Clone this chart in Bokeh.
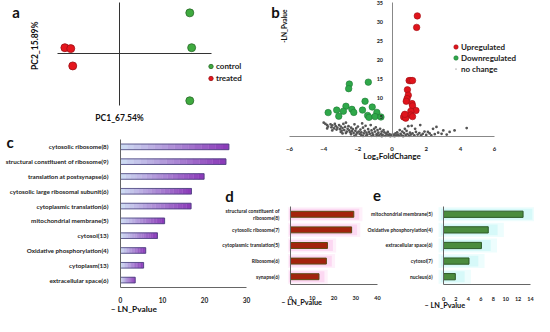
from bokeh.plotting import figure
from bokeh.models import Range1d, Label, FixedTicker
from bokeh.layouts import row, column
from bokeh.embed import file_html
from bokeh.resources import INLINE

FONT = "Lato"

# ---------------- data ----------------
# panel a (PCA)
pc1_control = [4.56, 4.68, 4.56]
pc2_control = [3.94, 0.56, -4.59]
pc1_treated = [-3.55, -3.17, -3.04]
pc2_treated = [0.56, 0.47, -1.21]

# panel b (volcano)
up_x = [1.48, 1.44, 1.0, 1.1, 1.2, 0.9, 0.95, 0.88, 0.83, 1.17, 1.2, 1.4, 1.1, 1.1, 0.72, 0.68, 0.8, 1.2, 0.75]
up_y = [31.5, 28.5, 14.6, 14.6, 14.6, 12.2, 10.8, 9.9, 9.2, 8.6, 8.0, 6.8, 6.6, 5.6, 5.5, 5.1, 4.8, 5.2, 5.8]
down_x = [-1.39, -2.5, -2.54, -1.58, -2.7, -1.16, -3.24, -2.35, -1.73, -3.74, -2.85, -2.24, -0.89, -3.12,
          -1.43, -1.35, -1.0, -0.65]
down_y = [14.2, 13.7, 12.5, 9.2, 7.9, 7.7, 6.9, 7.1, 6.9, 6.25, 6.6, 6.3, 6.3, 5.3, 5.5, 5.0, 5.2, 5.1]
nc_x = [-4.0, -3.9, -3.8, -3.75, -3.6, -3.55, -3.5, -3.4, -3.35, -3.3, -3.25, -3.2, -3.1, -3.05, -3.0,
        -2.95, -2.9, -2.85, -2.8, -2.75, -2.7, -2.65, -2.6, -2.55, -2.5, -2.45, -2.4, -2.35, -2.3, -2.25,
        -2.2, -2.15, -2.1, -2.05, -2.0, -1.95, -1.9, -1.85, -1.8, -1.75, -1.7, -1.65, -1.6, -1.55, -1.5,
        -1.45, -1.4, -1.35, -1.3, -1.25, -1.2, -1.15, -1.1, -1.05, -1.0, -0.95, -0.9, -0.85, -0.8, -0.75,
        -0.7, -0.65, -0.6, -0.55, -0.5, -0.45, -0.4, -0.35, -0.3, -0.25, -0.2, -0.15, -0.1, -0.05,
        -3.0, -2.7, -2.4, -2.1, -1.8, -1.5, -1.2, -0.9, -2.9, -3.5, -3.8, -2.2, -1.7, -0.6,
        0.05, 0.1, 0.15, 0.2, 0.25, 0.3, 0.35, 0.4, 0.45, 0.5, 0.55, 0.6, 0.65, 0.7, 0.75, 0.8, 0.85,
        0.9, 0.95, 1.0, 1.05, 1.1, 1.15, 1.2, 1.3, 1.35, 1.4, 1.5, 1.6, 1.65, 1.7, 1.8, 1.9, 2.0, 2.1,
        2.2, 2.3, 2.4, 2.5, 2.6, 2.7, 2.9, 3.0, 3.2, 3.37, 3.66, 4.37]
nc_y = [3.6, 3.3, 3.0, 2.6, 3.2, 2.4, 2.9, 2.1, 3.3, 2.7, 1.8, 2.3, 3.0, 1.9, 2.6,
        1.5, 2.2, 3.3, 1.7, 2.5, 3.6, 1.3, 2.0, 2.7, 1.6, 1.1, 2.3, 1.4, 1.9, 0.9,
        3.2, 1.5, 2.1, 1.0, 2.6, 1.3, 0.7, 1.8, 1.1, 3.4, 2.3, 0.8, 1.5, 2.8, 1.0,
        0.5, 1.9, 1.2, 0.7, 3.0, 1.6, 0.9, 0.4, 2.0, 1.3, 2.4, 0.6, 1.7, 1.0, 0.3,
        2.0, 0.7, 1.3, 0.4, 1.7, 1.1, 0.2, 0.8, 0.5, 1.2, 0.3, 0.6, 0.1, 0.4,
        1.2, 0.9, 0.6, 0.5, 0.4, 0.3, 0.2, 0.2, 0.8, 1.6, 2.1, 0.2, 0.15, 0.1,
        0.2, 0.5, 0.1, 0.8, 0.3, 1.1, 0.5, 0.2, 1.7, 0.7, 0.3, 1.3, 0.1, 0.9, 2.0, 0.4, 1.5,
        0.6, 2.7, 0.2, 1.0, 0.5, 2.8, 0.8, 0.3, 2.0, 1.2, 0.5, 0.9, 3.0, 0.3, 0.7, 1.3, 0.4, 1.2,
        0.8, 0.3, 2.0, 0.6, 2.5, 1.0, 0.7, 1.6, 0.5, 1.2, 1.6, 2.2]
b_xticks = [-6, -4, -2, 0, 2, 4, 6]
b_yticks = [5, 10, 15, 20, 25, 30, 35]

# panel c
c_terms = ["cytosolic ribosome(8)", "structural constituent of ribosome(9)", "translation at postsynapse(6)",
           "cytosolic large ribosomal subunit(6)", "cytoplasmic translation(6)", "mitochondrial membrane(5)",
           "cytosol(13)", "Oxidative phosphorylation(4)", "cytoplasm(13)", "extracellular space(6)"]
c_values = [25.8, 25.1, 19.9, 16.9, 16.8, 10.5, 8.8, 6.0, 5.5, 3.5]
c_xticks = [0, 10, 20, 30]

# panel d
d_terms = ["structural constituent of\nribosome(8)", "cytosolic ribosome(7)", "cytoplasmic translation(5)",
           "Ribosome(6)", "synapse(6)"]
d_values = [29.1, 28.1, 17.0, 16.5, 13.1]
d_xticks = [0, 10, 20, 30, 40]

# panel e
e_terms = ["mitochondrial membrane(5)", "Oxidative phosphorylation(4)", "extracellular space(6)",
           "cytosol(7)", "nucleus(6)"]
e_values = [12.8, 7.2, 6.1, 4.1, 1.9]
e_xticks = [0, 2, 4, 6, 8, 10, 12, 14]

AXIS_TITLE = "– LN_Pvalue"


def lab(p, x, y, text, size, angle=0.0, align="center", color="#111111"):
    p.add_layout(Label(x=x, y=y, text=text, text_font=FONT, text_font_style="bold",
                       text_font_size=f"{size}px", text_align=align, text_baseline="middle",
                       angle=angle, text_color=color))


def style_axes(p, tick_size):
    for ax in p.axis:
        ax.major_label_text_font = FONT
        ax.major_label_text_font_style = "bold"
        ax.major_label_text_font_size = f"{tick_size}px"
        ax.major_label_text_color = "#222222"
        ax.major_tick_line_color = None
        ax.minor_tick_line_color = None
        ax.axis_line_color = "#666666"
        ax.axis_line_width = 1
    p.grid.visible = False


def style_legend(lg, row_h, glyph_w):
    lg.label_text_font = FONT
    lg.label_text_font_style = "bold"
    lg.label_text_font_size = "8px"
    lg.label_text_color = "#222222"
    lg.glyph_width = glyph_w
    lg.glyph_height = row_h
    lg.label_height = row_h
    lg.label_standoff = 0
    lg.spacing = 0
    lg.padding = 0
    lg.margin = 0
    lg.border_line_color = None
    lg.background_fill_alpha = 0


def fig(w, h, xr, yr, transparent=False, **kw):
    extra = dict(border_fill_color=None, background_fill_color=None) if transparent else {}
    return figure(frame_width=w, frame_height=h, x_range=Range1d(*xr), y_range=Range1d(*yr),
                  min_border=0, outline_line_color=None, output_backend="svg", toolbar_location=None,
                  **extra, **kw)


def hbar_axes(p, n, terms, xticks, xbound, tick_size, cat_size, cat_standoff, x_standoff):
    pos = list(range(n))[::-1]
    p.xaxis.fixed_location = -0.5
    p.xaxis.bounds = xbound
    p.xaxis.ticker = FixedTicker(ticks=xticks)
    p.yaxis.fixed_location = 0
    p.yaxis.bounds = (-0.5, n - 0.5)
    p.yaxis.ticker = FixedTicker(ticks=pos)
    p.yaxis.major_label_overrides = {k: t for k, t in zip(pos, terms)}
    style_axes(p, tick_size)
    p.yaxis.major_label_text_font_size = f"{cat_size}px"
    p.yaxis.major_label_standoff = cat_standoff
    p.xaxis.major_label_standoff = x_standoff
    return pos


# ---------------- panel a ----------------
pa = fig(266, 132, (-7.73, 9.54), (-7.67, 5.14))
pa.xaxis.fixed_location = 0
pa.yaxis.fixed_location = 0
pa.xaxis.bounds = (-4.03, 5.97)
pa.yaxis.bounds = (-5.05, 4.95)
for ax in pa.axis:
    ax.ticker = FixedTicker(ticks=[])
    ax.major_tick_line_color = None
    ax.minor_tick_line_color = None
    ax.axis_line_color = "#333333"
pa.grid.visible = False
pa.scatter(pc1_control, pc2_control, size=8, fill_color="#3faa3f", line_color="#2a6a2a", line_width=0.8,
           legend_label="control")
pa.scatter(pc1_treated, pc2_treated, size=8, fill_color="#e5161d", line_color="#9a1015", line_width=0.8,
           legend_label="treated")
lg = pa.legend[0]
lg.location = (205, 48)
style_legend(lg, 12, 11)
lab(pa, -6.72, 4.02, "a", 15)
lab(pa, 0, -6.28, "PC1_67.54%", 8.5)
lab(pa, -5.46, 0.75, "PC2_15.89%", 8.5, angle=1.5708)

# ---------------- panel b ----------------
pb = fig(268, 166, (-7.35, 8.34), (-7.83, 35.52))
pb.scatter(nc_x, nc_y, marker="dot", size=11, line_color="#555555", fill_color="#555555",
           legend_label="no change")
pb.scatter(down_x, down_y, size=6.5, fill_color="#2fa84a", line_color="#1f7a35", line_width=0.6,
           legend_label="Downregulated")
pb.scatter(up_x, up_y, size=6.5, fill_color="#e0141c", line_color="#a01015", line_width=0.6,
           legend_label="Upregulated")
pb.xaxis.fixed_location = 0
pb.yaxis.fixed_location = 0
pb.xaxis.bounds = (-6, 6)
pb.yaxis.bounds = (0, 35)
pb.yaxis.ticker = FixedTicker(ticks=b_yticks)
pb.xaxis.ticker = FixedTicker(ticks=b_xticks)
style_axes(pb, 6)
pb.yaxis.major_label_text_font_size = "5.5px"
pb.yaxis.major_label_standoff = 3
pb.xaxis.major_label_standoff = 4
pb.xaxis.axis_line_color = "#888888"
pb.yaxis.axis_line_color = "#888888"
lgb = pb.legend[0]
lgb.items = [lgb.items[2], lgb.items[1], lgb.items[0]]
lgb.location = (184, 92)
style_legend(lgb, 11, 11)
lab(pb, -6.82, 32.5, "b", 15)
lab(pb, -6.31, 28.8, "-LN_Pvalue", 6.5, angle=1.5708)
lab(pb, 0, -5.2, "Log₂FoldChange", 8)

# ---------------- panel c ----------------
pc = fig(266, 184, (-28.57, 34.76), (-2.46, 9.97))
c_pos = hbar_axes(pc, len(c_terms), c_terms, c_xticks, (0, 30), 6.5, 6.3, 6, 4)
NSEG = 16
c0 = (205, 218, 242)
c1 = (140, 60, 185)
seg_y, seg_l, seg_r, seg_c = [], [], [], []
for yy, v in zip(c_pos, c_values):
    for k in range(NSEG):
        f = k / (NSEG - 1)
        rgb = tuple(int(round(a + (b - a) * f)) for a, b in zip(c0, c1))
        seg_y.append(yy)
        seg_l.append(v * k / NSEG)
        seg_r.append(v * (k + 1) / NSEG)
        seg_c.append("#%02x%02x%02x" % rgb)
pc.hbar(y=seg_y, left=seg_l, right=seg_r, height=0.38, fill_color=seg_c, line_color=seg_c, line_width=0.4)
pc.hbar(y=c_pos, left=0, right=c_values, height=0.38, fill_color=None, line_color="#45407a", line_width=0.8)
lab(pc, -26.3, 9.33, "c", 15)
lab(pc, -2.33, -1.97, AXIS_TITLE, 8.3, align="left")

# ---------------- panel d ----------------
pdd = fig(164, 150, (-33.1, 42.3), (-2.55, 7.06), transparent=True, margin=(0, 0, 0, -48))
d_pos = hbar_axes(pdd, len(d_terms), d_terms, d_xticks, (0, 40), 5.5, 5, 5, 5)
pdd.hbar(y=d_pos, left=-1.2, right=[v + 4 for v in d_values], height=0.9, fill_color="#fef0fa", line_color=None)
pdd.hbar(y=d_pos, left=-0.6, right=[v + 2.5 for v in d_values], height=0.7, fill_color="#fcd8f2", line_color=None)
pdd.hbar(y=d_pos, left=0, right=d_values, height=0.38, fill_color="#a3230d", line_color="#5e4a14", line_width=1)
lab(pdd, -28.0, 5.2, "d", 15)
lab(pdd, -4.2, -1.63, AXIS_TITLE, 7.3, align="left")

# ---------------- panel e ----------------
pe = fig(175, 150, (-13.52, 14.64), (-2.55, 7.06), transparent=True, margin=(0, 0, 0, -23))
e_pos = hbar_axes(pe, len(e_terms), e_terms, e_xticks, (0, 14), 5.5, 5, 5, 6)
pe.hbar(y=e_pos, left=-0.8, right=[v + 2.5 for v in e_values], height=0.9, fill_color="#edfdfd", line_color=None)
pe.hbar(y=e_pos, left=-0.4, right=[v + 1.5 for v in e_values], height=0.7, fill_color="#d6f9f9", line_color=None)
pe.hbar(y=e_pos, left=0, right=e_values, height=0.4, fill_color="#4b8c3e", line_color="#2d5a28", line_width=1)
lab(pe, -10.7, 5.2, "e", 15)
lab(pe, -3.06, -1.85, AXIS_TITLE, 7.3, align="left")

layout = row(column(pa, pc), column(pb, row(pdd, pe)))
open("out.html", "w").write(file_html(layout, INLINE))
